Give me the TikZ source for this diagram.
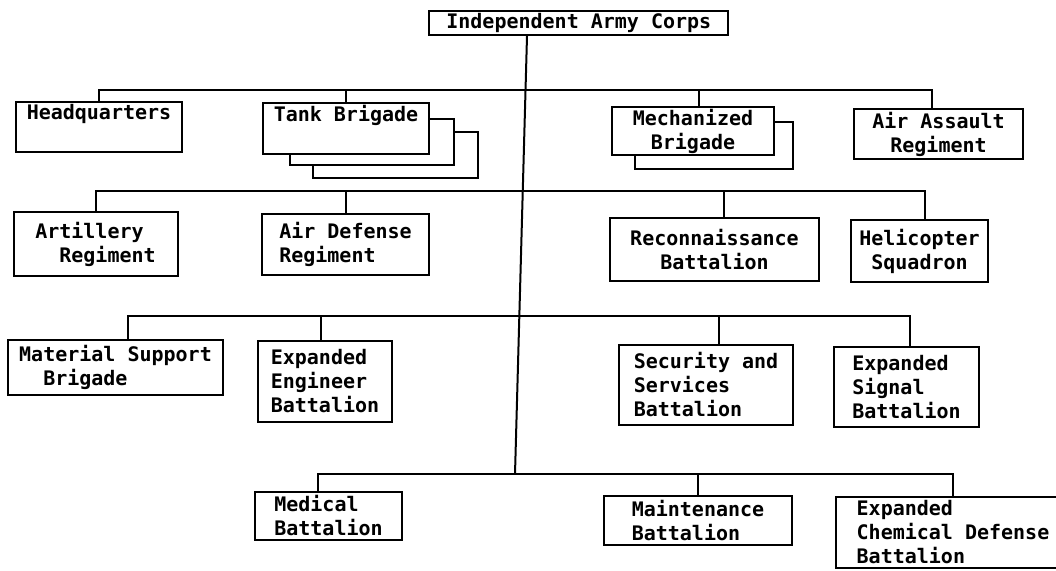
\documentclass[tikz,border=0pt]{standalone}
\usepackage{fontspec}
\setmainfont{DejaVu Sans Mono}
\newcommand\skipch[1]{\hspace*{#1\dimexpr 0.602em\relax}}
\begin{document}
\begin{tikzpicture}[x = 1pt, y = -1pt, line width = 2pt,
                    every node/.style = {shape = rectangle, draw, inner sep = 2pt,
                                         align = left,
                                         font = \fontsize{20}{24}\selectfont\bfseries},
                    box/.style 2 args = {minimum width = #1, minimum height = #2}]
      \useasboundingbox (0, 0) rectangle (1056, 570);

      \node [box = {299}{24}] (corps) at (578.8, 23) {Independent Army Corps};

      \node [box = {166}{48}] (hq)   at (99, 127)    {Headquarters\\\strut};
      \node [box = {166}{49}] (tank) at (346, 128.5) {Tank Brigade\\\strut};
      \node [box = {162}{48}, align = center] (mech) at (693, 131)   {Mechanized\\Brigade};
      \node [box = {169}{50}, align = center] (aa)   at (938.5, 134) {Air Assault\\Regiment};
      \draw (429, 119) -| (454, 165) -| (290, 153)
            (454, 132) -| (478, 178) -| (313, 165)
            (774, 122) -| (793, 169) -| (635, 155);

      \node [box = {164}{64}] (art) at (95.5, 244)  {Artillery\\\skipch{2}Regiment};
      \node [box = {167}{61}] (ad)  at (345.5, 244.5) {Air Defense\\Regiment};
      \node [box = {209}{63}, align = center] (recon) at (714.5, 249.5) {Reconnaissance\\Battalion};
      \node [box = {137}{62}, align = center] (heli)  at (919.5, 251)   {Helicopter\\Squadron};

      \node [box = {215}{55}] (mat) at (115.5, 367.5) {Material Support\\\skipch{2}Brigade};
      \node [box = {134}{81}] (eng) at (325, 381.5)   {Expanded\\Engineer\\Battalion};
      \node [box = {174}{80}] (sec) at (706, 385)     {Security and\\Services\\Battalion};
      \node [box = {145}{80}] (sig) at (906.5, 387)   {Expanded\\Signal\\Battalion};

      \node [box = {147}{48}] (med)   at (328.5, 516) {Medical\\Battalion};
      \node [box = {188}{49}] (maint) at (698, 520.5) {Maintenance\\Battalion};
      \node [box = {234}{71}] (chem)  at (953, 532.5) {Expanded\\Chemical Defense\\Battalion};

      \coordinate (b1) at (525.6, 90);
      \coordinate (b2) at (522.7, 191);
      \coordinate (b3) at (519.2, 316);
      \coordinate (b4) at (515, 474);

      \draw ([xshift = -51.8pt]corps.south) -- (b4);
      \draw (hq.north) |- (b1) -| ([xshift = -6.5pt]aa.north)
            (tank.north) |- (b1)
            ([xshift = 5.5pt]mech.north) |- (b1);
      \draw (art.north) |- (b2) -| ([xshift = 5.5pt]heli.north)
            (ad.north) |- (b2)
            ([xshift = 9.5pt]recon.north) |- (b2);
      \draw ([xshift = 12.5pt]mat.north) |- (b3) -| ([xshift = 3.5pt]sig.north)
            ([xshift = -4pt]eng.north) |- (b3)
            ([xshift = 13pt]sec.north) |- (b3);
      \draw ([xshift = -10.5pt]med.north) |- (b4) -| (chem.north)
            (maint.north) |- (b4);
    \end{tikzpicture}
\end{document}
